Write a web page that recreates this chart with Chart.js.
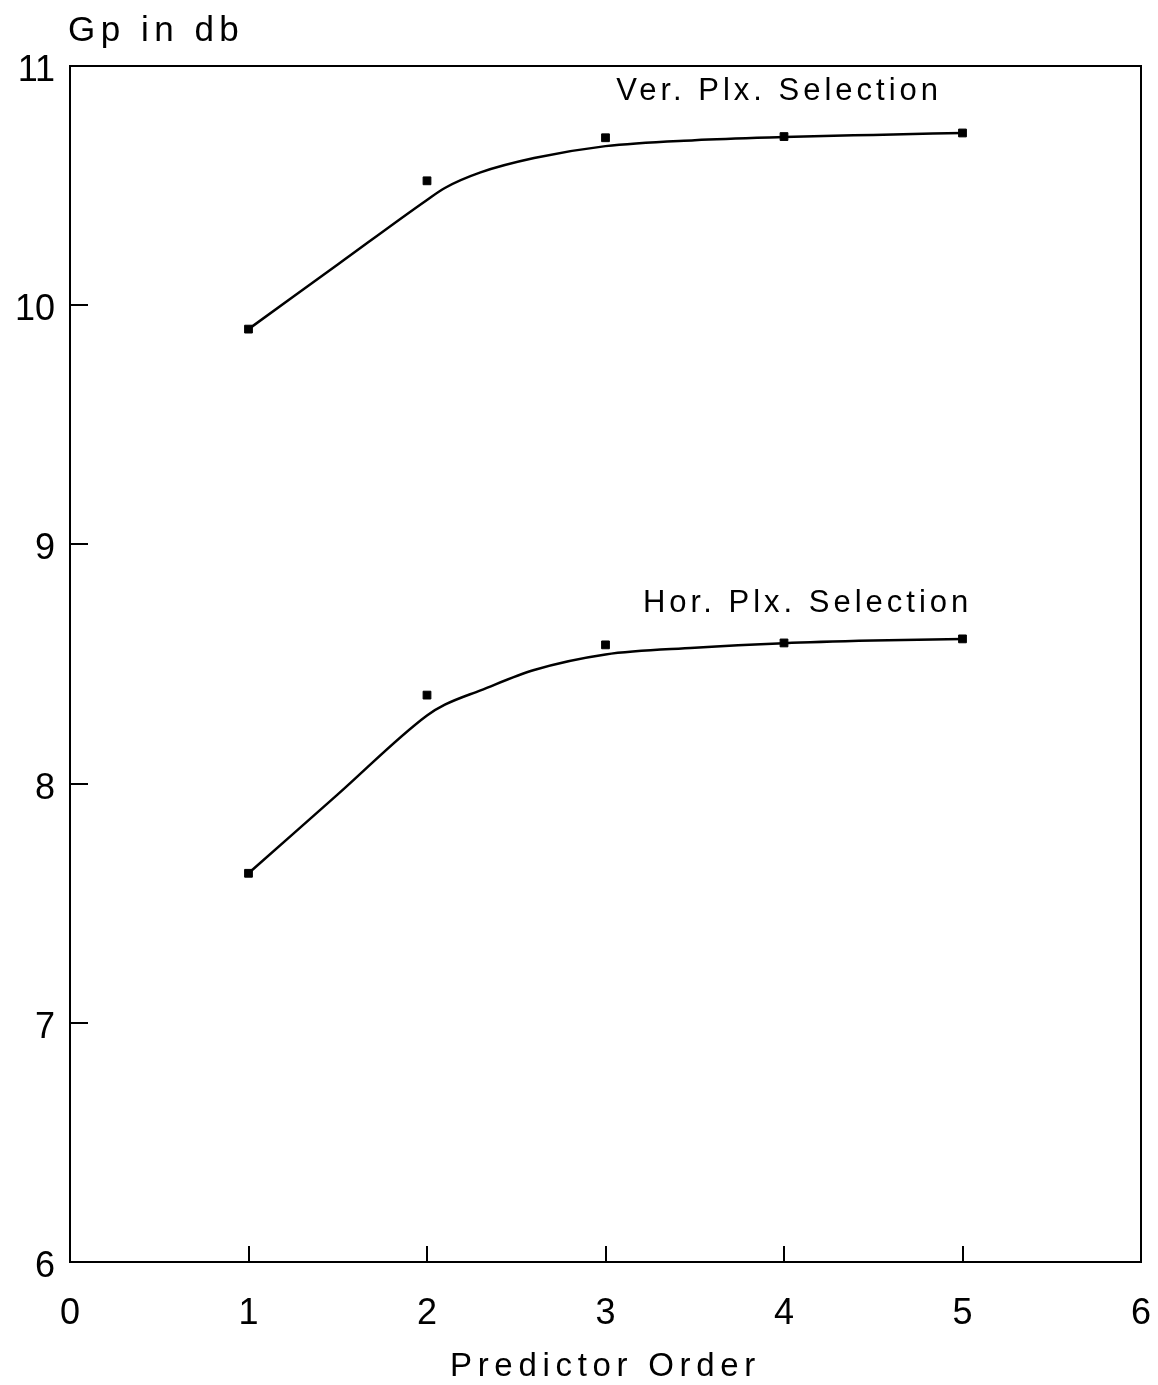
<!DOCTYPE html>
<html>
<head>
<meta charset="utf-8">
<script src="https://cdn.jsdelivr.net/npm/chart.js@4/dist/chart.umd.min.js"></script>
<style>
  html, body { margin: 0; padding: 0; background: #fff; }
  #wrap { width: 1158px; height: 1385px; position: relative; }
</style>
</head>
<body>
<div id="wrap"><canvas id="gpChart"></canvas></div>
<script>
// predictor order of the measured points
const orders = [1, 2, 3, 4, 5];
const verMeasured = [9.90, 10.52, 10.70, 10.705, 10.72];
const horMeasured = [7.625, 8.37, 8.58, 8.588, 8.605];

// fitted curves
const fitOrders = [1, 1.5, 2, 2.1, 2.3, 2.6, 3, 3.5, 4, 4.5, 5];
const verFit = [9.90, 10.17, 10.44, 10.49, 10.555, 10.615, 10.665, 10.69, 10.703, 10.712, 10.72];
const horFit = [7.625, 7.955, 8.285, 8.33, 8.39, 8.475, 8.54, 8.568, 8.587, 8.598, 8.605];

const xTicks = [0, 1, 2, 3, 4, 5, 6];
const yTicks = [6, 7, 8, 9, 10, 11];

const curveLabels = ['Ver. Plx. Selection', 'Hor. Plx. Selection'];
const curveLabelX = [3.06, 3.21];
const curveLabelY = [10.895, 8.755];

const FONT = '"Liberation Sans", Arial, sans-serif';

function toPoints(xs, ys) {
  return xs.map((x, i) => ({ x, y: ys[i] }));
}

// no extra room for edge labels, keep the plot box fixed
function noEdgePadding(s) {
  s.paddingLeft = 0;
  s.paddingRight = 0;
  s.paddingTop = 0;
  s.paddingBottom = 0;
}

// frame, inward ticks and the free text
const decorPlugin = {
  id: 'decor',
  afterDraw(chart) {
    const { ctx, chartArea: a, scales } = chart;
    const xs = scales.x, ys = scales.y;
    ctx.save();
    ctx.strokeStyle = '#000';
    ctx.lineWidth = 2;
    ctx.strokeRect(a.left, a.top, a.right - a.left, a.bottom - a.top);

    ctx.beginPath();
    for (const v of xTicks.slice(1, -1)) {
      const px = Math.round(xs.getPixelForValue(v));
      ctx.moveTo(px, a.bottom);
      ctx.lineTo(px, a.bottom - 16);
    }
    for (const v of yTicks.slice(1, -1)) {
      const py = Math.round(ys.getPixelForValue(v));
      ctx.moveTo(a.left, py);
      ctx.lineTo(a.left + 18, py);
    }
    ctx.stroke();

    ctx.fillStyle = '#000';
    ctx.textBaseline = 'middle';
    ctx.textAlign = 'left';
    ctx.font = '31px ' + FONT;
    ctx.letterSpacing = '4px';
    curveLabels.forEach((t, i) => {
      ctx.fillText(t, xs.getPixelForValue(curveLabelX[i]), ys.getPixelForValue(curveLabelY[i]));
    });

    ctx.font = '35px ' + FONT;
    ctx.letterSpacing = '5.5px';
    ctx.textBaseline = 'alphabetic';
    ctx.fillText('Gp in db', a.left - 2, 41);

    ctx.font = '33px ' + FONT;
    ctx.letterSpacing = '5.7px';
    ctx.textAlign = 'center';
    ctx.fillText('Predictor Order', (a.left + a.right) / 2, 1376);
    ctx.restore();
  }
};

const lineStyle = {
  borderColor: '#000',
  borderWidth: 2.5,
  pointRadius: 0,
  showLine: true,
  fill: false,
  cubicInterpolationMode: 'monotone'
};

const markStyle = {
  borderColor: '#000',
  backgroundColor: '#000',
  pointStyle: 'rect',
  pointRadius: 5.5,
  showLine: false
};

new Chart(document.getElementById('gpChart'), {
  type: 'scatter',
  data: {
    datasets: [
      { label: 'Ver fit', data: toPoints(fitOrders, verFit), ...lineStyle },
      { label: 'Hor fit', data: toPoints(fitOrders, horFit), ...lineStyle },
      { label: 'Ver', data: toPoints(orders, verMeasured), ...markStyle },
      { label: 'Hor', data: toPoints(orders, horMeasured), ...markStyle }
    ]
  },
  options: {
    responsive: true,
    maintainAspectRatio: false,
    animation: false,
    layout: { padding: { top: 66, right: 17, left: 0, bottom: 0 } },
    plugins: {
      legend: { display: false },
      tooltip: { enabled: false }
    },
    scales: {
      x: {
        type: 'linear',
        min: 0,
        max: 6,
        afterFit: (s) => { s.height = 123; noEdgePadding(s); },
        afterBuildTicks: (s) => { s.ticks = xTicks.map(v => ({ value: v })); },
        grid: { display: false, drawTicks: false },
        border: { display: false },
        ticks: { color: '#000', padding: 30, font: { family: FONT, size: 36 } }
      },
      y: {
        type: 'linear',
        min: 6,
        max: 11,
        afterFit: (s) => { s.width = 70; noEdgePadding(s); },
        afterBuildTicks: (s) => { s.ticks = yTicks.map(v => ({ value: v })); },
        grid: { display: false, drawTicks: false },
        border: { display: false },
        ticks: { color: '#000', padding: 15, labelOffset: 5, font: { family: FONT, size: 36 } }
      }
    }
  },
  plugins: [decorPlugin]
});
</script>
</body>
</html>
